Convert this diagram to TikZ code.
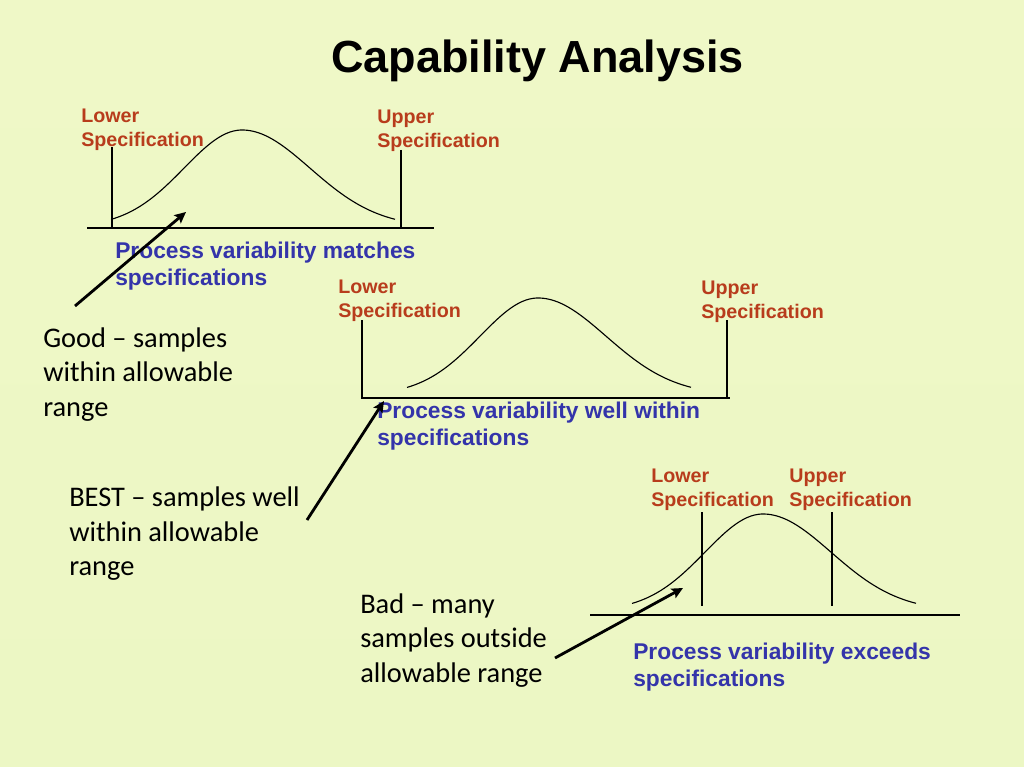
\documentclass[tikz,border=0pt]{standalone}
\usepackage{fontspec}
\setmainfont{Liberation Sans}
\newfontfamily\calibri{Carlito}
\usetikzlibrary{arrows.meta}
\definecolor{specred}{HTML}{B83C1C}
\definecolor{procblue}{HTML}{3434AA}
\definecolor{slidetop}{HTML}{EFF8C7}
\definecolor{slidemid}{HTML}{F5FBDC}
\definecolor{slidebot}{HTML}{ECF7C4}

\begin{document}
\begin{tikzpicture}[x=0.025cm, y=-0.025cm,
    axis/.style={line width=0.9pt},
    bell/.style={line width=0.8pt},
    speclbl/.style={font=\fontsize{14}{17}\selectfont\bfseries, text=specred,
                    align=left, anchor=base west, inner sep=0pt},
    proclbl/.style={font=\fontsize{16.2}{19.1}\selectfont\bfseries, text=procblue,
                    align=left, anchor=base west, inner sep=0pt},
    verdict/.style={font=\calibri\fontsize{20.2}{24.5}\selectfont,
                    align=left, anchor=base west, inner sep=0pt},
    pointer/.style={-{Stealth[length=8pt, width=7.5pt, inset=1.5pt]}, line width=2pt}]
  % slide background
  \path[use as bounding box, top color=slidetop, middle color=slidemid,
        bottom color=slidebot] (0,0) rectangle (1024,767);
  \node[font=\fontsize{32}{38}\selectfont\bfseries, anchor=base] (title)
      at (537.5,73) {Capability Analysis};
  % three bell curves (peak x / curve base)
  \foreach \cx/\b in {242/227, 538/395, 763/611}
    \draw[bell, domain=-131:153, samples=80, variable=\t]
      plot ({\cx+\t}, {\b-97*exp(-0.5*(\t/(\t<0 ? 58 : 68))*(\t/(\t<0 ? 58 : 68)))});
  % axes and specification limits
  \draw[axis] (87,228) -- (434,228);
  \draw[axis] (112,147) -- (112,228) (401,150) -- (401,228);
  \draw[axis] (362,320) -- (362,398) -- (730,398) (727,320) -- (727,398);
  \draw[axis] (590,615) -- (960,615);
  \draw[axis] (702,512) -- (702,606) (832,512) -- (832,606);
  % specification labels (base = last line)
  \foreach \nm/\x/\y/\txt in {lo1/81/146.5/Lower, up1/377/147.5/Upper,
                              lo2/338/317.5/Lower, up2/701/318.5/Upper,
                              lo3/651/506.5/Lower, up3/789/506.5/Upper}
    \node[speclbl] (\nm) at (\x,\y) {\txt\\Specification};
  % process captions
  \node[proclbl] (proc1) at (115,285) {Process variability matches\\specifications};
  \node[proclbl] (proc2) at (377,445) {Process variability well within\\specifications};
  \node[proclbl] (proc3) at (633,686) {Process variability exceeds\\specifications};
  % verdicts
  \node[verdict] (good) at (43,416) {Good \textendash{} samples\\within allowable\\range};
  \node[verdict] (best) at (69,575.5) {BEST \textendash{} samples well\\within allowable\\range};
  \node[verdict] (bad) at (360,682) {Bad \textendash{} many\\samples outside\\allowable range};
  % pointers from verdicts into the curves
  \coordinate (good-tail) at (75,306);
  \coordinate (good-tip) at (186,212);
  \coordinate (best-tail) at (307,520);
  \coordinate (best-tip) at (384,401);
  \coordinate (bad-tail) at (555,658);
  \coordinate (bad-tip) at (683,588);
  \draw[pointer] (good-tail) -- (good-tip);
  \draw[pointer] (best-tail) -- (best-tip);
  \draw[pointer] (bad-tail) -- (bad-tip);
\end{tikzpicture}
\end{document}
